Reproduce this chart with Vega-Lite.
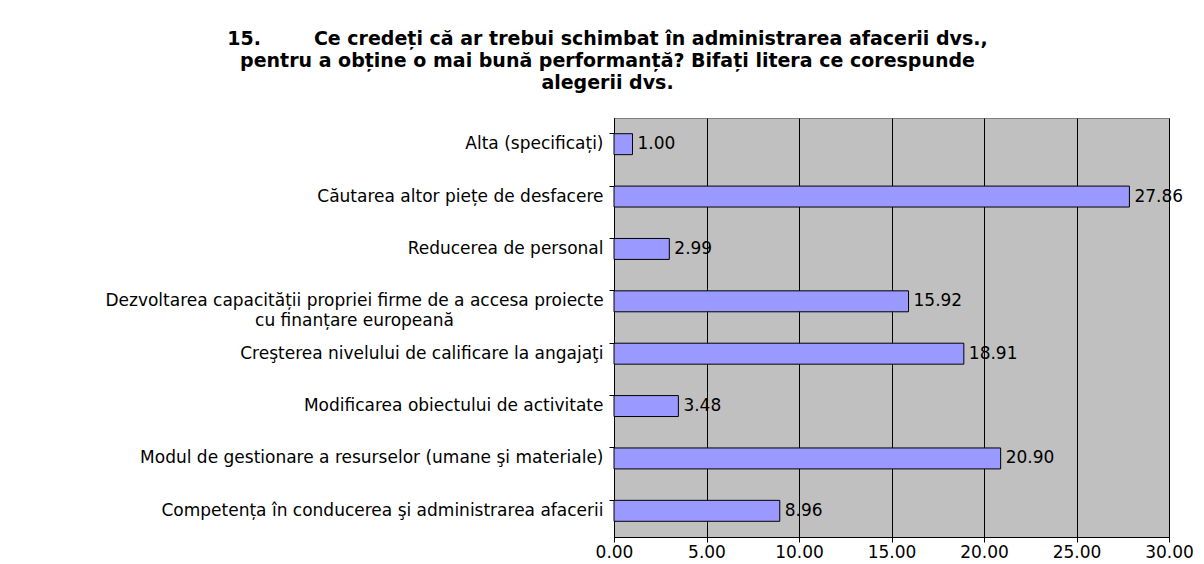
{
  "$schema": "https://vega.github.io/schema/vega-lite/v6.json",
  "autosize": {"type": "none"},
  "width": 555,
  "height": 419,
  "padding": {"left": 614, "top": 118, "right": 35, "bottom": 27},
  "background": "white",
  "config": {
    "font": "DejaVu Sans",
    "view": {"stroke": "#808080", "strokeWidth": 1, "fill": "#C0C0C0"}
  },
  "title": {
    "text": ["15.\u00a0\u00a0\u00a0\u00a0\u00a0\u00a0\u00a0 Ce credeți că ar trebui schimbat în administrarea afacerii dvs.,", "pentru a obține o mai bună performanță? Bifați litera ce corespunde", "alegerii dvs."],
    "font": "DejaVu Sans",
    "fontSize": 19,
    "fontWeight": "bold",
    "color": "black",
    "anchor": "middle",
    "dx": -284,
    "offset": 25,
    "lineHeight": 22
  },
  "data": {
    "values": [
      {"cat": "Alta (specificați)", "v": 1.00, "o": 1},
      {"cat": "Căutarea altor piețe de desfacere", "v": 27.86, "o": 2},
      {"cat": "Reducerea de personal", "v": 2.99, "o": 3},
      {"cat": "Dezvoltarea capacității propriei firme de a accesa proiecte|cu finanțare europeană", "v": 15.92, "o": 4},
      {"cat": "Creşterea nivelului de calificare la angajaţi", "v": 18.91, "o": 5},
      {"cat": "Modificarea obiectului de activitate", "v": 3.48, "o": 6},
      {"cat": "Modul de gestionare a resurselor (umane şi materiale)", "v": 20.90, "o": 7},
      {"cat": "Competența în conducerea şi administrarea afacerii", "v": 8.96, "o": 8}
    ]
  },
  "encoding": {
    "y": {
      "field": "cat",
      "type": "nominal",
      "sort": {"field": "o", "order": "ascending"},
      "scale": {"paddingInner": 0.6, "paddingOuter": 0.3},
      "axis": {
        "title": null,
        "labelExpr": "split(datum.label, '|')",
        "labelFont": "DejaVu Sans",
        "labelFontSize": 17,
        "labelColor": "black",
        "labelAlign": {"condition": {"test": "indexof(datum.value, 'Dezvoltarea') === 0", "value": "center"}, "value": "right"},
        "labelPadding": {"condition": {"test": "indexof(datum.value, 'Dezvoltarea') === 0", "value": 255}, "value": 6},
        "labelLineHeight": 20,
        "labelLimit": 0,
        "domainColor": "black",
        "tickColor": "black",
        "tickSize": 5,
        "bandPosition": 0
      }
    }
  },
  "layer": [
    {
      "mark": {"type": "bar", "fill": "#9999FF", "stroke": "black", "strokeWidth": 1},
      "encoding": {
        "x": {
          "field": "v",
          "type": "quantitative",
          "scale": {"domain": [0, 30], "nice": false},
          "axis": {
            "title": null,
            "values": [0, 5, 10, 15, 20, 25, 30],
            "format": ".2f",
            "labelFont": "DejaVu Sans",
            "labelFontSize": 17,
            "labelColor": "black",
            "labelPadding": 2,
            "labelFlush": false,
            "domainColor": "black",
            "tickColor": "black",
            "tickSize": 5,
            "grid": true,
            "gridColor": "black",
            "gridOpacity": 1,
            "gridWidth": 1
          }
        }
      }
    },
    {
      "mark": {"type": "text", "align": "left", "baseline": "middle", "dx": 5, "fontSize": 17, "font": "DejaVu Sans", "color": "black"},
      "encoding": {
        "x": {"field": "v", "type": "quantitative"},
        "text": {"field": "v", "type": "quantitative", "format": ".2f"}
      }
    }
  ]
}
